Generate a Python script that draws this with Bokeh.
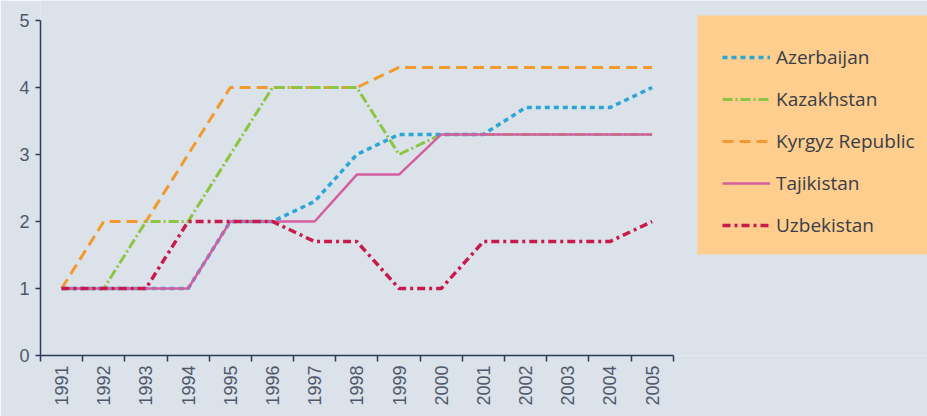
from bokeh.plotting import figure
from bokeh.models import (Range1d, FixedTicker, Legend, LegendItem, BoxAnnotation)
from bokeh.embed import file_html
from bokeh.resources import INLINE
import math

# Index values by country, 1991-2005
years = list(range(1991, 2006))
azerbaijan = [1, 1, 1, 1, 2, 2, 2.3, 3.0, 3.3, 3.3, 3.3, 3.7, 3.7, 3.7, 4.0]
kazakhstan = [1, 1, 2, 2, 3, 4, 4, 4, 3.0, 3.3, 3.3, 3.3, 3.3, 3.3, 3.3]
kyrgyz = [1, 2, 2, 3, 4, 4, 4, 4, 4.3, 4.3, 4.3, 4.3, 4.3, 4.3, 4.3]
tajikistan = [1, 1, 1, 1, 2, 2, 2, 2.7, 2.7, 3.3, 3.3, 3.3, 3.3, 3.3, 3.3]
uzbekistan = [1, 1, 1, 2, 2, 2, 1.7, 1.7, 1.0, 1.0, 1.7, 1.7, 1.7, 1.7, 2.0]
y_ticks = [0, 1, 2, 3, 4, 5]

BG = "#dbe2e9"
AXIS = "#2b3a58"
LABEL = "#4f586b"

W, H = 927, 416
left, bottom = 40, 61
unit_x = 42.18
unit_y = 67.0
frame_w = W - left
frame_h = H - bottom

x0 = years[0] - 0.5
p = figure(width=W, height=H, output_backend="svg", toolbar_location=None,
           x_range=Range1d(x0, x0 + frame_w / unit_x),
           y_range=Range1d(0, frame_h / unit_y),
           min_border_left=left, min_border_right=0, min_border_top=0,
           min_border_bottom=bottom)
p.background_fill_color = BG
p.border_fill_color = BG
p.outline_line_color = None
p.grid.visible = False

# x axis: labels at year centres, tick marks at boundaries between years
p.xaxis.ticker = FixedTicker(ticks=years,
                             minor_ticks=[y - 0.5 for y in years] + [years[-1] + 0.5])
p.xaxis.bounds = (x0, years[-1] + 0.5)
p.xaxis.major_tick_out = 0
p.xaxis.major_tick_in = 0
p.xaxis.minor_tick_out = 6
p.xaxis.minor_tick_in = 0
p.xaxis.minor_tick_line_color = AXIS
p.xaxis.minor_tick_line_width = 1.5
p.xaxis.major_label_orientation = math.pi / 2
p.xaxis.major_label_standoff = 4

p.yaxis.ticker = FixedTicker(ticks=y_ticks)
p.yaxis.bounds = (0, 5)
p.yaxis.major_tick_out = 5
p.yaxis.major_tick_in = 0
p.yaxis.minor_tick_line_color = None
p.yaxis.major_label_standoff = 6

for ax in (p.xaxis, p.yaxis):
    ax.axis_line_color = AXIS
    ax.axis_line_width = 1.5
    ax.major_tick_line_color = AXIS
    ax.major_tick_line_width = 1.5
    ax.major_label_text_font = "Liberation Sans"
    ax.major_label_text_font_size = "18px"
    ax.major_label_text_color = LABEL

# legend panel
p.add_layout(BoxAnnotation(left=x0 + (697 - left) / unit_x, right=x0 + frame_w / unit_x + 1,
                           bottom=(frame_h - 254) / unit_y, top=(frame_h - 15) / unit_y,
                           fill_color="#fdce8d", fill_alpha=1, line_color=None,
                           level="underlay"))

r_kg = p.line(years, kyrgyz, line_color="#f39a2e", line_width=3, line_dash="11 6")
r_kz = p.line(years, kazakhstan, line_color="#8cc540", line_width=3, line_dash="10 3 2 3")
r_az = p.line(years, azerbaijan, line_color="#2ba6d6", line_width=3.5, line_dash="5 4")
r_tj = p.line(years, tajikistan, line_color="#d45fa0", line_width=2.5)
r_uz = p.line(years, uzbekistan, line_color="#c81a4c", line_width=3.5, line_dash="8 4 3 4")

legend = Legend(items=[
    LegendItem(label="Azerbaijan", renderers=[r_az]),
    LegendItem(label="Kazakhstan", renderers=[r_kz]),
    LegendItem(label="Kyrgyz Republic", renderers=[r_kg]),
    LegendItem(label="Tajikistan", renderers=[r_tj]),
    LegendItem(label="Uzbekistan", renderers=[r_uz]),
], location=(682, 117))
legend.background_fill_alpha = 0
legend.border_line_color = None
legend.padding = 0
legend.margin = 0
legend.spacing = 16
legend.label_height = 20
legend.glyph_height = 20
legend.glyph_width = 48
legend.label_standoff = 6
legend.label_text_font = "Open Sans"
legend.label_text_font_size = "19px"
legend.label_text_color = "#3a3d49"
p.add_layout(legend)

open("out.html", "w").write(file_html(p, INLINE))
